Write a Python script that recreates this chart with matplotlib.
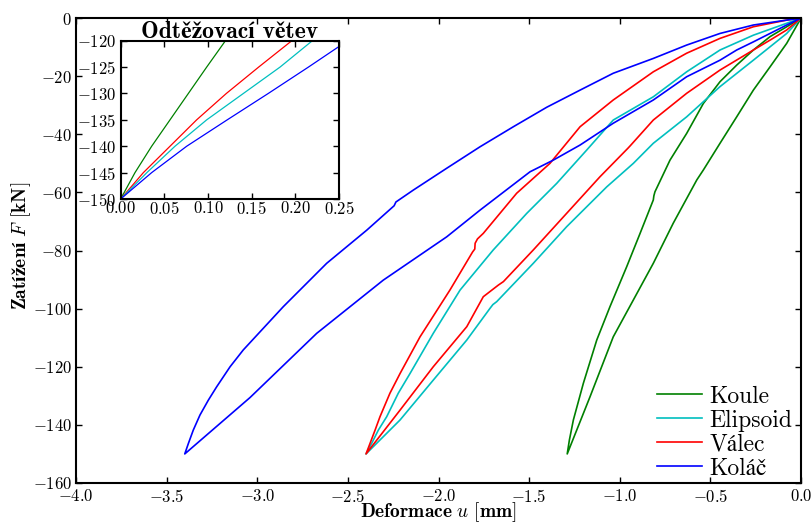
import numpy as np
import matplotlib
matplotlib.use('Agg')
import matplotlib.pyplot as plt
from matplotlib.ticker import FuncFormatter, MultipleLocator

# Zatezovaci (loading) and odtezovaci (unloading) branches
# Koule
kouleLoadU = [0, -0.079, -0.171, -0.263, -0.355, -0.447, -0.539, -0.575, -0.705, -0.815, -0.925, -1.036, -1.164, -1.29]
kouleLoadF = [0, -8.7, -16.8, -24.8, -34.0, -43.1, -52.3, -55.7, -70.6, -84.4, -97.0, -109.7, -130.3, -150]
kouleUnU = [-1.29, -1.278, -1.256, -1.201, -1.127, -1.054, -0.962, -0.888, -0.815, -0.812, -0.806, -0.723, -0.631, -0.539, -0.447, -0.355, -0.263, -0.171, -0.079, 0]
kouleUnF = [-150, -145.2, -138.3, -125.7, -110.8, -99.3, -85.6, -74.1, -62.6, -61.2, -59.8, -48.9, -39.7, -29.4, -21.9, -16.2, -11.0, -6.4, -3.0, 0]

# Elipsoid
elipLoadU = [0, -0.079, -0.171, -0.263, -0.447, -0.631, -0.815, -0.925, -1.072, -1.293, -1.477, -1.679, -1.700, -1.716, -1.844, -2.029, -2.212, -2.40]
elipLoadF = [0, -5.3, -9.9, -14.5, -23.6, -34.0, -43.1, -50.0, -58.1, -71.8, -84.4, -97.6, -98.6, -99.9, -110.8, -124.6, -138.3, -150]
elipUnU = [-2.40, -2.369, -2.332, -2.286, -2.222, -2.157, -2.029, -1.881, -1.698, -1.513, -1.348, -1.182, -1.036, -0.815, -0.631, -0.447, -0.263, -0.079, 0]
elipUnF = [-150, -146.4, -141.8, -137.2, -129.1, -122.3, -108.5, -93.6, -79.8, -67.2, -56.9, -45.4, -35.1, -27.1, -18.5, -11.0, -5.9, -1.8, 0]

# Valec
valecLoadU = [0, -0.079, -0.171, -0.263, -0.447, -0.631, -0.815, -0.943, -0.955, -1.109, -1.293, -1.477, -1.642, -1.670, -1.753, -1.844, -2.029, -2.212, -2.40]
valecLoadF = [0, -4.1, -7.6, -11.0, -17.9, -25.9, -35.1, -44.0, -44.8, -54.6, -67.2, -79.8, -90.7, -91.9, -95.9, -106.2, -120.0, -134.9, -150]
valecUnU = [-2.40, -2.378, -2.350, -2.323, -2.268, -2.212, -2.102, -1.937, -1.812, -1.800, -1.798, -1.785, -1.753, -1.569, -1.385, -1.219, -1.036, -0.815, -0.631, -0.447, -0.263, -0.079, 0]
valecUnF = [-150, -146.4, -141.8, -137.2, -129.1, -122.3, -109.7, -93.6, -80.5, -79.5, -77.5, -76.0, -74.1, -60.3, -50.0, -37.4, -28.2, -18.5, -12.1, -7.0, -3.0, -0.7, 0]

# Kolac
kolacLoadU = [0, -0.079, -0.171, -0.263, -0.355, -0.447, -0.631, -0.815, -1.036, -1.219, -1.367, -1.495, -1.771, -1.955, -2.305, -2.672, -3.040, -3.40]
kolacLoadF = [0, -2.4, -5.3, -8.2, -11.0, -14.5, -20.2, -28.2, -36.2, -43.7, -48.9, -52.9, -66.1, -75.3, -90.2, -108.5, -130.6, -150]
kolacUnU = [-3.40, -3.380, -3.353, -3.316, -3.270, -3.224, -3.150, -3.077, -2.856, -2.617, -2.396, -2.245, -2.235, -2.139, -1.955, -1.771, -1.587, -1.403, -1.219, -1.036, -0.815, -0.631, -0.447, -0.263, -0.079, 0]
kolacUnF = [-150, -146.4, -141.8, -136.6, -131.5, -126.9, -120.0, -114.2, -99.3, -84.4, -73.0, -64.6, -63.3, -59.2, -51.7, -44.3, -37.4, -30.7, -24.8, -19.0, -13.9, -9.3, -5.3, -2.4, -0.7, 0]

# Inset: unloading branch, displacement measured from the peak
insetF = [-150, -145, -140, -135, -130, -125, -120]
insetKoule = [0, 0.0164, 0.0355, 0.0565, 0.0775, 0.0985, 0.120]
insetElip = [0, 0.030, 0.0622, 0.0985, 0.1405, 0.1825, 0.2195]
insetValec = [0, 0.026, 0.0565, 0.087, 0.121, 0.158, 0.196]
insetKolacU = [0, 0.0355, 0.0756, 0.122, 0.169, 0.215, 0.25]
insetKolacF = [-150, -145, -140, -135, -130, -125, -121.1]

labels = ['Koule', 'Elipsoid', 'Válec', 'Koláč']
colors = ['g', 'c', 'r', 'b']

plt.rcParams['mathtext.fontset'] = 'cm'
plt.rcParams['font.family'] = ['cmr10', 'STIXGeneral']
boldFam = ['cmb10', 'STIXGeneral']

def fmt(dec):
    return FuncFormatter(lambda v, p: r'$%.*f$' % (dec, v))

fig = plt.figure(figsize=(8.12, 5.23), dpi=100)
ax = fig.add_axes([0.0936, 0.0765, 0.8929, 0.889])

curves = [(kouleLoadU, kouleLoadF, kouleUnU, kouleUnF),
          (elipLoadU, elipLoadF, elipUnU, elipUnF),
          (valecLoadU, valecLoadF, valecUnU, valecUnF),
          (kolacLoadU, kolacLoadF, kolacUnU, kolacUnF)]
for (lu, lf, uu, uf), lab, col in zip(curves, labels, colors):
    u = np.concatenate([lu, uu])
    F = np.concatenate([lf, uf])
    ax.plot(u, F, color=col, linewidth=1.2, label=lab)

ax.set_xlim(-4, 0)
ax.set_ylim(-160, 0)
ax.xaxis.set_major_locator(MultipleLocator(0.5))
ax.yaxis.set_major_locator(MultipleLocator(20))
ax.xaxis.set_major_formatter(fmt(1))
ax.yaxis.set_major_formatter(fmt(0))
ax.tick_params(direction='in', top=True, right=True, length=4, width=1, labelsize=12)
ax.tick_params(axis='x', pad=3.5)
ax.tick_params(axis='y', pad=3)
for s in ax.spines.values():
    s.set_linewidth(1.5)
ax.set_xlabel(r'$\mathbf{Deformace}\ u\ \mathbf{[mm]}$', fontsize=14)
ax.set_ylabel(r'$\mathbf{Zatížení}\ F\ \mathbf{[kN]}$', fontsize=14)
ax.xaxis.set_label_coords(0.5, -0.037)
ax.yaxis.set_label_coords(-0.059, 0.509)

ax.legend(loc='lower right', bbox_to_anchor=(0.9876, 0.0073), frameon=False, fontsize=17,
          labelspacing=0.08, handlelength=1.9, handletextpad=0.3, borderaxespad=0.0, borderpad=0.0)

# Inset
axi = fig.add_axes([0.1486, 0.6195, 0.2689, 0.3027])
axi.plot(insetKoule, insetF, color='g', linewidth=0.9)
axi.plot(insetValec, insetF, color='r', linewidth=0.9)
axi.plot(insetElip, insetF, color='c', linewidth=0.9)
axi.plot(insetKolacU, insetKolacF, color='b', linewidth=0.9)
axi.set_xlim(0, 0.25)
axi.set_ylim(-150, -120)
axi.xaxis.set_major_locator(MultipleLocator(0.05))
axi.yaxis.set_major_locator(MultipleLocator(5))
axi.xaxis.set_major_formatter(fmt(2))
axi.yaxis.set_major_formatter(fmt(0))
axi.tick_params(direction='in', top=True, right=True, length=4, width=1, labelsize=12)
axi.tick_params(axis='x', pad=1)
axi.tick_params(axis='y', pad=3)
for s in axi.spines.values():
    s.set_linewidth(1.5)
axi.set_title('Odtěžovací větev', fontsize=17, family=boldFam, fontweight='bold', pad=2)

fig.savefig('out.png', dpi=100)
